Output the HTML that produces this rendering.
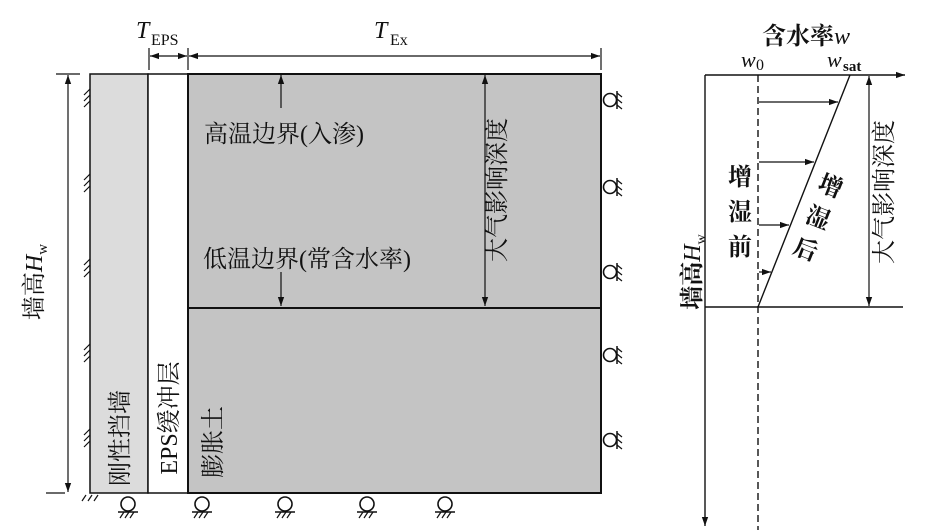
<!DOCTYPE html>
<html><head><meta charset="utf-8"><style>
body{margin:0;background:#fff}
svg{display:block}
text{font-family:"Liberation Serif","Noto Serif CJK SC","Noto Sans CJK SC",serif;fill:#111}
</style></head><body>
<svg width="934" height="532" viewBox="0 0 934 532" xmlns="http://www.w3.org/2000/svg">
<defs>
<marker id="a" viewBox="0 0 10 10" refX="10" refY="5" markerWidth="9" markerHeight="9" orient="auto-start-reverse" markerUnits="userSpaceOnUse"><path d="M0,1.5 L10,5 L0,8.5 z" fill="#111"/></marker>
<g id="sup"><circle cx="0" cy="0" r="6.5" fill="none" stroke="#111" stroke-width="1.6"/><line x1="7" y1="-9" x2="7" y2="9" stroke="#111" stroke-width="1.5"/><path d="M7,-7 l5,4 M7,-1 l5,4 M7,5 l5,4" stroke="#111" stroke-width="1.2"/></g>
<g id="bot"><circle cx="0" cy="0" r="7" fill="none" stroke="#111" stroke-width="1.6"/><line x1="-10" y1="8" x2="10" y2="8" stroke="#111" stroke-width="1.5"/><path d="M-8,14 l4,-6 M-3,14 l4,-6 M2,14 l4,-6" stroke="#111" stroke-width="1.2"/></g>
<g id="hl"><path d="M84,0 l6,-6 M84,6 l6,-6 M84,12 l6,-6" stroke="#111" stroke-width="1.2"/></g>
</defs>
<rect x="90" y="74" width="58" height="419" fill="#dcdcdc" stroke="#111" stroke-width="1.5"/>
<rect x="148" y="74" width="40" height="419" fill="#fff" stroke="#111" stroke-width="1.5"/>
<rect x="188" y="74" width="413" height="419" fill="#c4c4c4" stroke="#111" stroke-width="2"/>
<line x1="188" y1="308" x2="601" y2="308" stroke="#111" stroke-width="2"/>
<line x1="149" y1="48" x2="149" y2="70" stroke="#111" stroke-width="1.2"/>
<line x1="188" y1="48" x2="188" y2="70" stroke="#111" stroke-width="1.2"/>
<line x1="601" y1="48" x2="601" y2="70" stroke="#111" stroke-width="1.2"/>
<line x1="150" y1="56" x2="187" y2="56" stroke="#111" stroke-width="1.2" marker-start="url(#a)" marker-end="url(#a)"/>
<line x1="189" y1="56" x2="600" y2="56" stroke="#111" stroke-width="1.2" marker-start="url(#a)" marker-end="url(#a)"/>
<text x="136" y="38" font-size="24" font-style="italic">T</text><text x="151" y="45" font-size="16">EPS</text>
<text x="374" y="38" font-size="24" font-style="italic">T</text><text x="390" y="45" font-size="16">Ex</text>
<line x1="56" y1="74" x2="80" y2="74" stroke="#111" stroke-width="1.2"/>
<line x1="46" y1="493" x2="65" y2="493" stroke="#111" stroke-width="1.2"/>
<line x1="68" y1="75" x2="68" y2="492" stroke="#111" stroke-width="1.2" marker-start="url(#a)" marker-end="url(#a)"/>
<text transform="translate(42,282) rotate(-90)" font-size="24" text-anchor="middle">墙高<tspan font-style="italic">H</tspan><tspan font-size="15" dy="5">w</tspan></text>
<use href="#hl" y="95"/><use href="#hl" y="180"/><use href="#hl" y="265"/><use href="#hl" y="350"/><use href="#hl" y="435"/>
<path d="M82,501 l4,-6 M88,501 l4,-6 M94,501 l4,-6" stroke="#111" stroke-width="1.2"/>
<line x1="281" y1="108" x2="281" y2="75" stroke="#111" stroke-width="1.2" marker-end="url(#a)"/>
<line x1="281" y1="272" x2="281" y2="306" stroke="#111" stroke-width="1.2" marker-end="url(#a)"/>
<text x="204" y="142" font-size="24">高温边界(入渗)</text>
<text x="203" y="267" font-size="24">低温边界(常含水率)</text>
<line x1="485" y1="75" x2="485" y2="306" stroke="#111" stroke-width="1.2" marker-start="url(#a)" marker-end="url(#a)"/>
<text transform="translate(505,190) rotate(-90)" font-size="24" text-anchor="middle">大气影响深度</text>
<text transform="translate(128,438) rotate(-90)" font-size="24" text-anchor="middle">刚性挡墙</text>
<text transform="translate(177,418) rotate(-90)" font-size="24" text-anchor="middle">EPS缓冲层</text>
<text transform="translate(221,442) rotate(-90)" font-size="24" text-anchor="middle">膨胀土</text>
<use href="#sup" x="610" y="100"/><use href="#sup" x="610" y="187"/><use href="#sup" x="610" y="272"/><use href="#sup" x="610" y="355"/><use href="#sup" x="610" y="440"/>
<use href="#bot" x="128" y="504"/><use href="#bot" x="202" y="504"/><use href="#bot" x="285" y="504"/><use href="#bot" x="367" y="504"/><use href="#bot" x="445" y="504"/>
<line x1="705" y1="75" x2="705" y2="526" stroke="#111" stroke-width="1.4" marker-end="url(#a)"/>
<line x1="705" y1="75" x2="905" y2="75" stroke="#111" stroke-width="1.4" marker-end="url(#a)"/>
<line x1="705" y1="307" x2="903" y2="307" stroke="#111" stroke-width="1.4"/>
<line x1="758" y1="75" x2="758" y2="530" stroke="#111" stroke-width="1.4" stroke-dasharray="7,4"/>
<line x1="758" y1="307" x2="850" y2="75" stroke="#111" stroke-width="1.4"/>
<line x1="759" y1="102" x2="838" y2="102" stroke="#111" stroke-width="1.2" marker-end="url(#a)"/>
<line x1="759" y1="162" x2="814" y2="162" stroke="#111" stroke-width="1.2" marker-end="url(#a)"/>
<line x1="759" y1="225" x2="789" y2="225" stroke="#111" stroke-width="1.2" marker-end="url(#a)"/>
<line x1="759" y1="272" x2="771" y2="272" stroke="#111" stroke-width="1.2" marker-end="url(#a)"/>
<line x1="869" y1="76" x2="869" y2="306" stroke="#111" stroke-width="1.2" marker-start="url(#a)" marker-end="url(#a)"/>
<text transform="translate(892,192) rotate(-90)" font-size="24" text-anchor="middle">大气影响深度</text>
<text x="806" y="44" font-size="24" text-anchor="middle" font-weight="bold" font-family="Liberation Sans,Noto Sans CJK SC,sans-serif">含水率<tspan font-family="Liberation Serif,serif" font-style="italic" font-weight="normal">w</tspan></text>
<text x="741" y="67" font-size="22" font-style="italic">w</text><text x="756" y="70" font-size="16">0</text>
<text x="827" y="67" font-size="22" font-style="italic">w</text><text x="843" y="71" font-size="15" font-weight="bold" font-family="Liberation Sans,sans-serif">sat</text>
<text x="740" y="185" font-size="24" text-anchor="middle" font-weight="bold" font-family="Liberation Sans,Noto Sans CJK SC,sans-serif">增</text>
<text x="740" y="220" font-size="24" text-anchor="middle" font-weight="bold" font-family="Liberation Sans,Noto Sans CJK SC,sans-serif">湿</text>
<text x="740" y="255" font-size="24" text-anchor="middle" font-weight="bold" font-family="Liberation Sans,Noto Sans CJK SC,sans-serif">前</text>
<g transform="translate(818,218) rotate(21.6)" font-size="24" font-family="Liberation Sans,Noto Sans CJK SC,sans-serif" font-weight="bold">
<text x="0" y="-26" text-anchor="middle">增</text><text x="0" y="8" text-anchor="middle">湿</text><text x="0" y="42" text-anchor="middle">后</text></g>
<text transform="translate(700,272) rotate(-90)" font-size="24" text-anchor="middle" font-weight="bold" font-family="Liberation Sans,Noto Sans CJK SC,sans-serif">墙高<tspan font-family="Liberation Serif,serif" font-style="italic" font-weight="normal">H</tspan><tspan font-size="14" dy="5" font-weight="normal">w</tspan></text>
</svg>
</body></html>
